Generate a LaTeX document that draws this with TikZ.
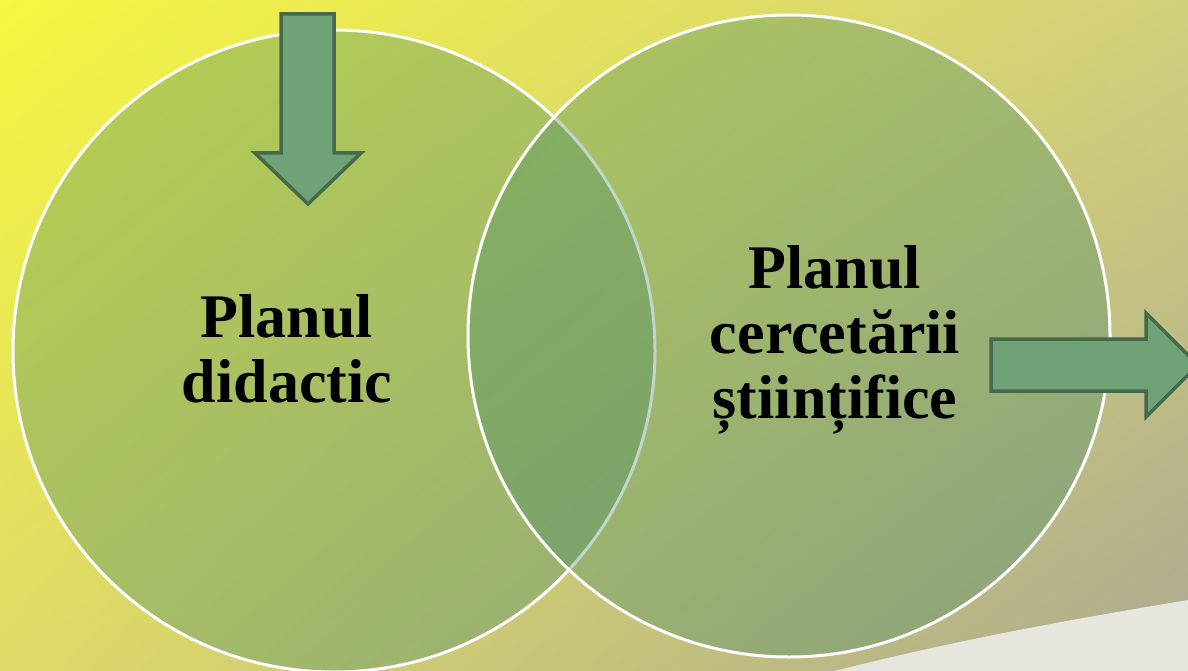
\documentclass[tikz,border=0pt]{standalone}
\usepackage{fontspec}
\setmainfont{Liberation Serif}
\usetikzlibrary{shadings}
\definecolor{bgtl}{HTML}{F6F640}
\definecolor{bgtr}{HTML}{D2CF7C}
\definecolor{bgbl}{HTML}{DEDA68}
\definecolor{bgbr}{HTML}{ACAA90}
\definecolor{swoosh}{HTML}{E6E6DF}
\definecolor{ringfill}{RGB}{66,138,100}
\definecolor{arrowfill}{HTML}{6FA377}
\definecolor{arrowline}{HTML}{45694B}
\begin{document}
\begin{tikzpicture}[x=1pt, y=-1pt,
  ring/.style={circle, minimum size=642pt, inner sep=0pt, draw=white, line width=3pt,
    fill=ringfill, fill opacity=0.34},
  blockarrow/.style={fill=arrowfill, draw=arrowline, line width=3.5pt, line join=miter},
  label/.style={font=\fontsize{62}{65}\selectfont\bfseries, align=center, text=black, inner sep=0pt}]
\useasboundingbox (0,0) rectangle (1188,671);
\clip (0,0) rectangle (1188,671);
% background gradient and the pale sweep at the lower right
\shade[upper left=bgtl, upper right=bgtr, lower left=bgbl, lower right=bgbr] (0,0) rectangle (1188,671);
\fill[swoosh] (800,680) .. controls (950,640) and (1080,618) .. (1200,598) -- (1200,680) -- cycle;
% the two overlapping circles
\node[ring] (didactic) at (334,351) {};
\node[ring] (research) at (789,336) {};
% labels
\node[label] (didacticlabel) at (287,349) {Planul\\didactic};
\node[label] (researchlabel) at (835,340) {Planul\\cercetării\\științifice};
% block arrows
\draw[blockarrow] (281,14) -- (334,14) -- (334,153) -- (361,153) -- (308,204)
  -- (255,153) -- (281,153) -- cycle;
\draw[blockarrow] (991,339) -- (1146,339) -- (1146,313) -- (1198,365)
  -- (1146,417) -- (1146,391) -- (991,391) -- cycle;
\end{tikzpicture}
\end{document}
